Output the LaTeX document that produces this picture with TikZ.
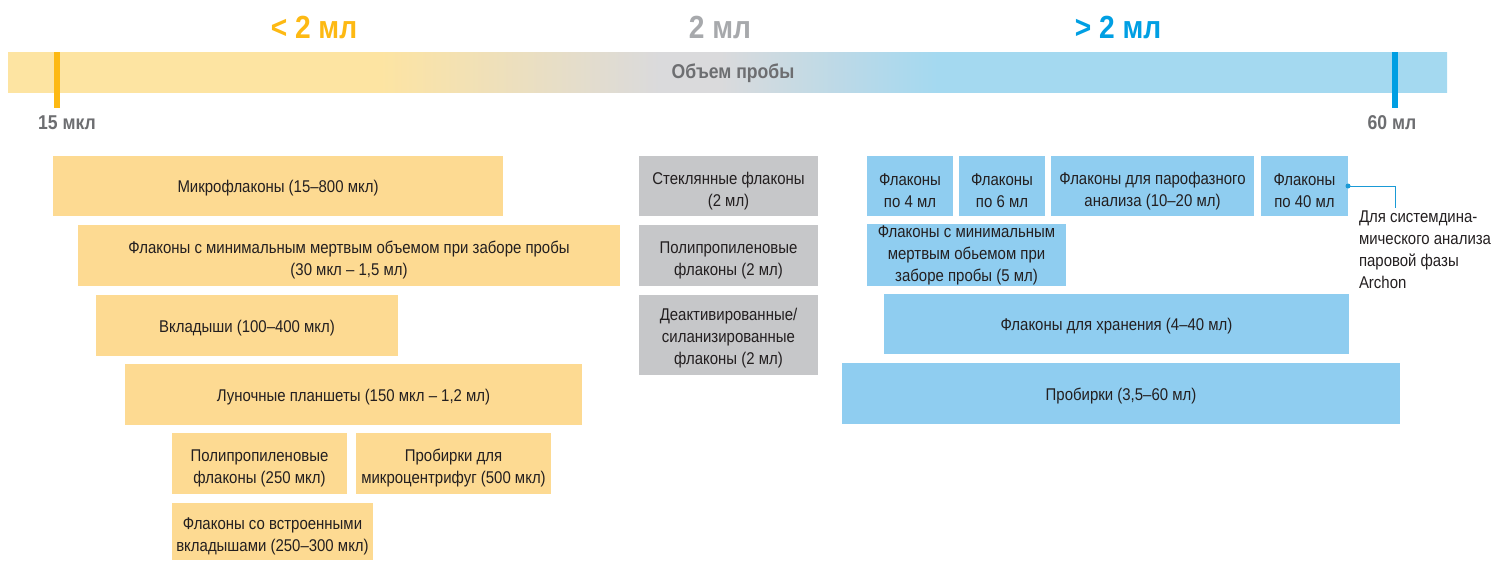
\documentclass[tikz,border=0pt]{standalone}
\usepackage{fontspec}
\setmainfont{Liberation Sans}[FakeStretch=0.88]
\definecolor{cY}{HTML}{FDE4A2}
\definecolor{cG}{HTML}{DADADC}
\definecolor{cB}{HTML}{A4D9F0}
\definecolor{boxY}{HTML}{FDDA92}
\definecolor{boxG}{HTML}{C6C7C9}
\definecolor{boxB}{HTML}{8FCDF0}
\definecolor{hY}{HTML}{FDB913}
\definecolor{hG}{HTML}{A7A9AC}
\definecolor{hB}{HTML}{009FE3}
\definecolor{lab}{HTML}{6D6E71}
\definecolor{txt}{HTML}{231F20}
\definecolor{conn}{HTML}{1A9AD6}
\pgfdeclarehorizontalshading{barshade}{100bp}{color(0bp)=(cY); color(37.93bp)=(cY); color(47.65bp)=(cG); color(49.74bp)=(cG); color(57.28bp)=(cB); color(100bp)=(cB)}
\begin{document}
\begin{tikzpicture}[x=1pt,y=-1pt,
  every node/.style={inner sep=0pt,outer sep=0pt,text=txt},
  boxbase/.style={anchor=north west,align=center,font=\fontsize{17}{22}\selectfont,
    execute at begin node={\rule{0pt}{17pt}}},
  multi/.style={execute at begin node={\rule{0pt}{#1}}},
  yelbox/.style={boxbase,fill=boxY},
  grybox/.style={boxbase,fill=boxG},
  blubox/.style={boxbase,fill=boxB},
  head/.style={font=\fontsize{32}{36}\selectfont\bfseries},
  scalelab/.style={font=\fontsize{20}{22}\selectfont\bfseries,text=lab},
  marker/.style={anchor=north west,minimum width=6pt,minimum height=56pt}
]
\useasboundingbox (0,0) rectangle (1492,560);
% bar
\shade[shading=barshade] (8,52) rectangle (1447,92);
\node[marker,fill=hY] (m1) at (54,52) {};
\node[marker,fill=hB] (m2) at (1392,52) {};
% headers
\node[head,text=hY] (h1) at (314,27) {< 2 мл};
\node[head,text=hG] (h2) at (720,27) {2 мл};
\node[head,text=hB] (h3) at (1118,27) {> 2 мл};
\node[scalelab] (vol) at (733,73) {Объем пробы};
\node[scalelab] (l15) at (67,123) {15 мкл};
\node[scalelab] (l60) at (1392,123) {60 мл};
% yellow boxes
\node[yelbox,minimum width=450pt,minimum height=60pt] (y1) at (53,156) {Микрофлаконы (15–800 мкл)};
\node[yelbox,multi=44pt,minimum width=542pt,minimum height=61pt] (y2) at (78,225) {Флаконы с минимальным мертвым объемом при заборе пробы\\(30 мкл – 1,5 мл)};
\node[yelbox,minimum width=302pt,minimum height=61pt] (y3) at (96,295) {Вкладыши (100–400 мкл)};
\node[yelbox,minimum width=457pt,minimum height=61pt] (y4) at (125,364) {Луночные планшеты (150 мкл – 1,2 мл)};
\node[yelbox,multi=44pt,minimum width=175pt,minimum height=61pt] (y5) at (172,433) {Полипропиленовые\\флаконы (250 мкл)};
\node[yelbox,multi=44pt,minimum width=195pt,minimum height=61pt] (y6) at (356,433) {Пробирки для\\микроцентрифуг (500 мкл)};
\node[yelbox,multi=44pt,minimum width=201pt,minimum height=57pt] (y7) at (172,503) {Флаконы со встроенными\\вкладышами (250–300 мкл)};
% gray boxes
\node[grybox,multi=44pt,minimum width=179pt,minimum height=60pt] (g1) at (639,156) {Стеклянные флаконы\\(2 мл)};
\node[grybox,multi=44pt,minimum width=179pt,minimum height=61pt] (g2) at (639,225) {Полипропиленовые\\флаконы (2 мл)};
\node[grybox,multi=62pt,minimum width=179pt,minimum height=80pt] (g3) at (639,295) {Деактивированные/\\силанизированные\\флаконы (2 мл)};
% blue boxes
\node[blubox,multi=44pt,minimum width=86pt,minimum height=60pt] (b1) at (867,156) {Флаконы\\по 4 мл};
\node[blubox,multi=44pt,minimum width=86pt,minimum height=60pt] (b2) at (959,156) {Флаконы\\по 6 мл};
\node[blubox,multi=44pt,minimum width=203pt,minimum height=60pt] (b3) at (1051,156) {Флаконы для парофазного\\анализа (10–20 мл)};
\node[blubox,multi=44pt,minimum width=87pt,minimum height=60pt] (b4) at (1261,156) {Флаконы\\по 40 мл};
\node[blubox,minimum width=199pt,minimum height=62pt] (b5) at (867,224) {Флаконы с минимальным\\мертвым обьемом при\\заборе пробы (5 мл)};
\node[blubox,minimum width=465pt,minimum height=60pt] (b6) at (884,294) {Флаконы для хранения (4–40 мл)};
\node[blubox,minimum width=558pt,minimum height=61pt] (b7) at (842,363) {Пробирки (3,5–60 мл)};
% connector
\coordinate (cend) at (1395,208);
\fill[conn] (b4.east) circle (2.5pt);
\draw[conn,line width=1pt] (b4.east) -| (cend);
\node[anchor=north west,align=left,font=\fontsize{17}{22}\selectfont] (note) at (1359,211) {Для системдина-\\мического анализа\\паровой фазы\\Archon};
\end{tikzpicture}
\end{document}
